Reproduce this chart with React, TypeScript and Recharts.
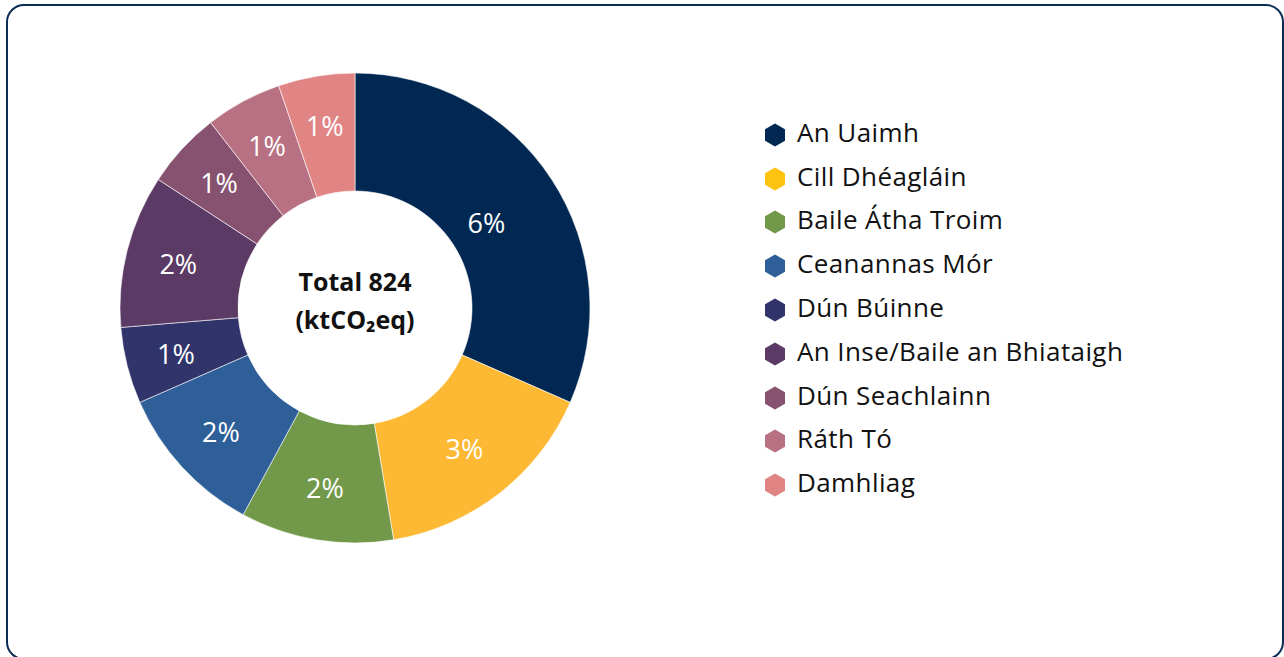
import { Legend, Pie, PieChart } from "recharts";

const towns = [
  "An Uaimh",
  "Cill Dhéagláin",
  "Baile Átha Troim",
  "Ceanannas Mór",
  "Dún Búinne",
  "An Inse/Baile an Bhiataigh",
  "Dún Seachlainn",
  "Ráth Tó",
  "Damhliag"
];
const shares = [6, 3, 2, 2, 1, 2, 1, 1, 1];
const colors = [
  "#002852",
  "#FDB933",
  "#72994A",
  "#2E5F98",
  "#30346B",
  "#5C3A66",
  "#87526F",
  "#B87183",
  "#E18484"
];
const legendColors = [
  "#002852",
  "#FEC30F",
  "#72994A",
  "#2E5F98",
  "#30346B",
  "#5C3A66",
  "#87526F",
  "#B87183",
  "#E18484"
];
const totalKt = 824;

const chartData = towns.map((name, i) => ({ name, value: shares[i], fill: colors[i] }));

const FONT = "'Open Sans', 'Noto Sans', sans-serif";
const RADIAN = Math.PI / 180;

// label sits on the centroid of the ring segment, like the original
function SliceLabel(props: any) {
  const { cx, cy, midAngle, innerRadius, outerRadius, startAngle, endAngle, value } = props;
  const half = (Math.abs(endAngle - startAngle) / 2) * RADIAN;
  const R = outerRadius;
  const r0 = innerRadius;
  const base = ((2 / 3) * (R ** 3 - r0 ** 3)) / (R ** 2 - r0 ** 2);
  const r = base * (half > 0 ? Math.sin(half) / half : 1) + 3;
  const x = cx + r * Math.cos(-midAngle * RADIAN);
  const y = cy + r * Math.sin(-midAngle * RADIAN);
  return (
    <text
      x={x}
      y={y}
      fill="#fff"
      fontSize={27}
      fontFamily={FONT}
      textAnchor="middle"
      dominantBaseline="central"
    >
      {`${value}%`}
    </text>
  );
}

function Hexagon({ color }: { color: string }) {
  return (
    <svg width={22} height={24} style={{ display: "block" }}>
      <polygon points="11,0.5 21,6.25 21,17.75 11,23.5 1,17.75 1,6.25" fill={color} />
    </svg>
  );
}

function TownLegend() {
  return (
    <div style={{ fontFamily: FONT }}>
      {towns.map((name, i) => (
        <div key={name} style={{ display: "flex", alignItems: "center", height: 43.8 }}>
          <div style={{ marginTop: 6 }}>
            <Hexagon color={legendColors[i]} />
          </div>
          <span style={{ marginLeft: 11, fontSize: 26, letterSpacing: 0.4, color: "#111" }}>
            {name}
          </span>
        </div>
      ))}
    </div>
  );
}

export default function App() {
  return (
    <div
      style={{
        position: "fixed",
        left: 0,
        top: 0,
        width: 1284,
        height: 657,
        overflow: "hidden",
        background: "#fff"
      }}
    >
      <div
        style={{
          position: "absolute",
          left: 6,
          top: 4,
          width: 1274,
          height: 652,
          border: "2px solid #0B2D55",
          borderRadius: 18
        }}
      />
      <div style={{ position: "absolute", left: 0, top: 0 }}>
        <PieChart width={1284} height={657} margin={{ top: 0, right: 0, bottom: 0, left: 0 }}>
          <Pie
            data={chartData}
            dataKey="value"
            nameKey="name"
            cx={355}
            cy={308}
            innerRadius={117}
            outerRadius={235}
            startAngle={90}
            endAngle={-270}
            stroke="#fff"
            strokeWidth={0.6}
            label={SliceLabel}
            labelLine={false}
            isAnimationActive={false}
          />
          <text
            x={355}
            y={281}
            textAnchor="middle"
            dominantBaseline="central"
            fontFamily={FONT}
            fontWeight={700}
            fontSize={25}
            fill="#111"
          >
            {`Total ${totalKt}`}
          </text>
          <text
            x={355}
            y={319}
            textAnchor="middle"
            dominantBaseline="central"
            fontFamily={FONT}
            fontWeight={700}
            fontSize={25}
            fill="#111"
          >
            (ktCO₂eq)
          </text>
          <Legend
            layout="vertical"
            align="right"
            verticalAlign="top"
            content={TownLegend}
            wrapperStyle={{ left: 764, top: 110, width: 480 }}
          />
        </PieChart>
      </div>
    </div>
  );
}
